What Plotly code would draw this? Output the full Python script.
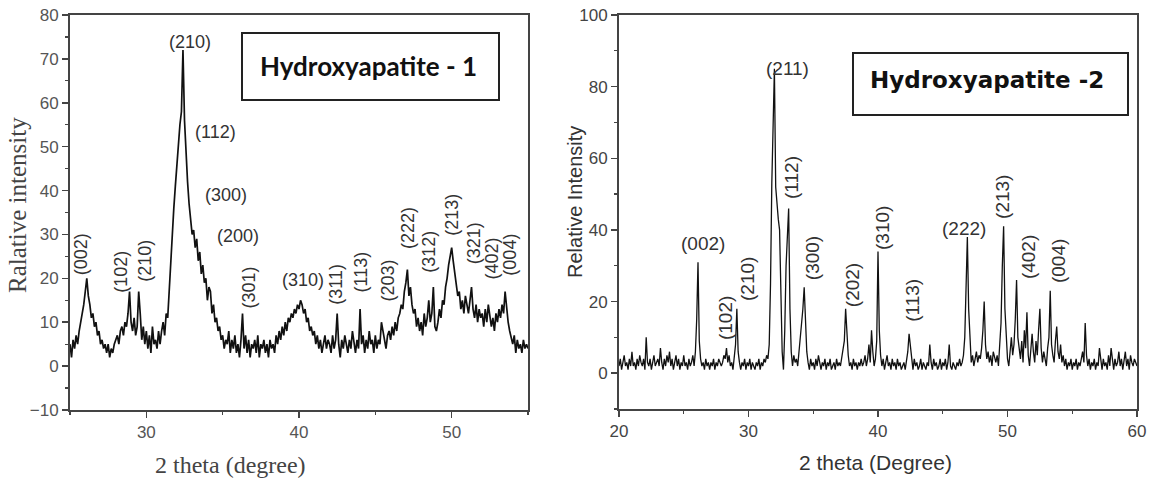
import numpy as np
import plotly.graph_objects as go

# ---------------- data: Hydroxyapatite - 1 (2theta 25.0 .. 55.0, step 0.1) ----------------
theta1_start, theta1_step = 25.0, 0.1
intensity1 = [
    5, 2, 6, 4, 7, 5, 8, 10, 12, 14,        # 25
    17, 20, 16, 14, 11, 12, 9, 10, 7, 8,    # 26
    5, 6, 4, 5, 3, 5, 2, 4, 3, 5,           # 27
    6, 7, 5, 8, 9, 7, 10, 9, 12, 17,        # 28
    10, 8, 11, 7, 9, 17, 12, 6, 9, 5,       # 29
    8, 4, 7, 3, 9, 5, 6, 4, 8, 5,           # 30
    8, 10, 7, 12, 11, 18, 25, 30, 36, 41,   # 31
    46, 50, 55, 58, 72, 56, 48, 42, 37, 33, # 32
    30, 31, 27, 29, 24, 26, 21, 23, 19, 20, # 33
    15, 18, 17, 12, 14, 10, 11, 8, 9, 6,    # 34
    7, 4, 6, 5, 8, 3, 6, 4, 7, 3,           # 35
    5, 2, 6, 12, 4, 7, 3, 6, 2, 5,          # 36
    4, 6, 3, 7, 2, 5, 4, 6, 3, 5,           # 37
    2, 6, 4, 5, 3, 7, 5, 8, 6, 9,           # 38
    7, 10, 8, 11, 10, 12, 11, 13, 12, 14,   # 39
    13, 15, 14, 12, 13, 10, 11, 8, 9, 7,    # 40
    8, 5, 7, 4, 6, 3, 5, 7, 4, 6,           # 41
    5, 3, 7, 4, 6, 12, 5, 2, 6, 4,          # 42
    7, 5, 3, 6, 4, 8, 5, 3, 6, 4,           # 43
    13, 5, 7, 3, 6, 4, 8, 5, 6, 3,          # 44
    7, 4, 6, 5, 10, 8, 6, 4, 7, 8,          # 45
    6, 9, 7, 10, 8, 11, 12, 14, 13, 17,     # 46
    19, 22, 16, 18, 14, 12, 13, 9, 11, 8,   # 47
    10, 7, 12, 9, 11, 15, 10, 12, 18, 9,    # 48
    8, 10, 13, 11, 15, 14, 18, 20, 23, 25,  # 49
    27, 24, 21, 18, 16, 17, 13, 15, 12, 16, # 50
    14, 12, 15, 18, 13, 11, 14, 10, 13, 11, # 51
    12, 9, 13, 10, 14, 12, 9, 11, 8, 12,    # 52
    10, 13, 11, 14, 12, 17, 13, 10, 8, 6,   # 53
    5, 7, 3, 6, 4, 5, 3, 6, 4, 5,           # 54
    4,
]

# ---------------- data: Hydroxyapatite - 2 (2theta 20.0 .. 60.0, step 0.1) ----------------
theta2_start, theta2_step = 20.0, 0.1
intensity2 = [
    2, 4, 1, 3, 5, 2, 3, 1, 4, 2,           # 20
    6, 2, 3, 1, 4, 2, 5, 3, 2, 4,           # 21
    1, 10, 3, 2, 4, 1, 3, 5, 2, 3,          # 22
    4, 2, 7, 3, 1, 4, 2, 5, 3, 6,           # 23
    2, 4, 1, 3, 5, 2, 4, 1, 3, 2,           # 24
    5, 2, 3, 1, 4, 2, 3, 5, 2, 6,           # 25
    15, 31, 9, 4, 2, 3, 1, 4, 2, 3,         # 26
    1, 3, 2, 4, 1, 3, 2, 4, 3, 2,           # 27
    3, 5, 4, 7, 3, 5, 2, 3, 1, 4,           # 28
    8, 18, 6, 3, 1, 3, 2, 4, 1, 3,          # 29
    2, 4, 1, 3, 2, 1, 3, 2, 4, 1,           # 30
    3, 2, 4, 3, 5, 4, 8, 25, 53, 75,        # 31
    85, 52, 46, 43, 40, 18, 6, 1, 12, 30,   # 32
    40, 46, 18, 6, 2, 5, 3, 4, 2, 6,        # 33
    9, 15, 18, 24, 12, 6, 3, 1, 4, 2,       # 34
    3, 1, 4, 2, 5, 3, 1, 3, 2, 4,           # 35
    1, 3, 2, 4, 1, 2, 3, 1, 4, 2,           # 36
    3, 2, 4, 6, 9, 18, 10, 5, 2, 3,         # 37
    1, 4, 2, 3, 1, 3, 2, 4, 2, 3,           # 38
    5, 2, 4, 8, 3, 12, 6, 2, 4, 9,          # 39
    34, 12, 5, 2, 4, 1, 3, 5, 2, 3,         # 40
    1, 4, 2, 3, 1, 4, 2, 3, 1, 2,           # 41
    3, 1, 4, 6, 11, 7, 3, 1, 4, 2,          # 42
    3, 1, 2, 4, 1, 3, 2, 1, 3, 2,           # 43
    8, 3, 1, 4, 2, 3, 1, 2, 4, 1,           # 44
    3, 2, 4, 1, 3, 8, 2, 1, 3, 2,           # 45
    1, 3, 2, 4, 2, 3, 5, 10, 22, 38,        # 46
    18, 8, 3, 5, 2, 4, 6, 3, 5, 4,          # 47
    7, 12, 20, 8, 4, 6, 3, 5, 2, 6,         # 48
    4, 3, 5, 2, 8, 14, 30, 41, 18, 9,       # 49
    4, 2, 6, 10, 5, 8, 15, 26, 10, 6,       # 50
    4, 9, 3, 12, 7, 17, 5, 2, 8, 11,        # 51
    6, 3, 9, 5, 12, 18, 7, 3, 6, 4,         # 52
    2, 7, 10, 23, 8, 5, 3, 9, 13, 6,        # 53
    4, 8, 3, 5, 2, 4, 1, 3, 2, 4,           # 54
    1, 3, 2, 4, 1, 3, 2, 4, 6, 3,           # 55
    14, 5, 2, 4, 1, 3, 2, 4, 1, 3,          # 56
    2, 7, 3, 1, 4, 2, 3, 1, 5, 2,           # 57
    7, 3, 1, 4, 2, 3, 6, 2, 4, 1,           # 58
    3, 6, 2, 4, 1, 5, 3, 2, 4, 3,           # 59
    2,
]

# ---------------- peak (hkl) labels ----------------
labels1_text = ["(210)", "(112)", "(300)", "(200)", "(002)", "(102)", "(210)", "(301)",
                "(310)", "(311)", "(113)", "(203)", "(222)", "(312)", "(213)", "(321)",
                "(402)", "(004)"]
labels1_theta = [32.85, 34.5, 35.2, 36.0, 25.73, 28.37, 29.95, 36.7,
                 40.25, 42.4, 44.08, 45.86, 47.18, 48.5, 50.0, 51.47, 52.66, 53.85]
labels1_int = [73.8, 53.3, 39.0, 29.6, 25.5, 21.6, 23.9, 17.8,
               19.6, 18.7, 21.4, 19.6, 31.4, 26.0, 34.4, 28.0, 24.6, 25.5]
labels1_vertical = [False, False, False, False, True, True, True, True,
                    False, True, True, True, True, True, True, True, True, True]

labels2_text = ["(211)", "(002)", "(102)", "(210)", "(112)", "(300)", "(202)", "(310)",
                "(113)", "(222)", "(213)", "(402)", "(004)"]
labels2_theta = [33.05, 26.49, 28.19, 29.96, 33.36, 34.9, 38.0, 40.3,
                 42.6, 46.64, 49.65, 51.58, 53.9]
labels2_int = [85.2, 36.3, 15.4, 26.3, 54.5, 32.1, 24.6, 40.5,
               20.4, 40.5, 49.2, 32.4, 31.3]
labels2_vertical = [False, False, True, True, True, True, True, True,
                    True, False, True, True, True]

theta1 = np.round(theta1_start + theta1_step * np.arange(len(intensity1)), 2)
theta2 = np.round(theta2_start + theta2_step * np.arange(len(intensity2)), 2)

W, H = 1151, 482


def px(xp):
    return xp / W


def py(yp):
    return 1 - yp / H


fig = go.Figure()
fig.add_trace(go.Scatter(x=theta1, y=intensity1, mode="lines",
                         line=dict(color="#111", width=1.7), xaxis="x", yaxis="y",
                         showlegend=False, hoverinfo="skip"))
fig.add_trace(go.Scatter(x=theta2, y=intensity2, mode="lines",
                         line=dict(color="#111", width=1.3), xaxis="x2", yaxis="y2",
                         showlegend=False, hoverinfo="skip"))

AX = "#444"
tick_font1 = dict(family="Liberation Sans, Arial", size=17, color="#555")
tick_font2 = dict(family="Liberation Sans, Arial", size=17, color="#444")


def main_axis(rng, dtick, minor_dtick, domain, anchor, font, **kw):
    d = dict(range=rng, domain=domain, anchor=anchor, showline=True, linecolor=AX,
             linewidth=2, mirror=True, ticks="outside", ticklen=6, tickwidth=1.5,
             tickcolor=AX, dtick=dtick, showgrid=False, zeroline=False, tickfont=font,
             automargin=False, ticklabeloverflow="allow",
             minor=dict(ticks="outside", ticklen=3, tickwidth=1.2, tickcolor=AX,
                        dtick=minor_dtick, showgrid=False))
    d.update(kw)
    return d


def mirror_axis(rng, dtick, minor_dtick, overlay, anchor, side):
    return dict(range=rng, overlaying=overlay, anchor=anchor, side=side,
                showline=False, ticks="inside", ticklen=5, tickwidth=1.5, tickcolor=AX,
                dtick=dtick, tick0=0, showticklabels=False, showgrid=False, zeroline=False,
                automargin=False,
                minor=dict(ticks="inside", ticklen=3, tickwidth=1.2, tickcolor=AX,
                           dtick=minor_dtick, showgrid=False))


xd1 = [px(70), px(528)]
yd1 = [py(410), py(15)]
xd2 = [px(619), px(1137)]
yd2 = [py(409), py(15)]

fig.update_layout(
    template="none",
    width=W, height=H, paper_bgcolor="white", plot_bgcolor="white",
    margin=dict(l=0, r=0, t=0, b=0, pad=0, autoexpand=False),
    xaxis=main_axis([25, 55], 10, 5, xd1, "y", tick_font1, tick0=0),
    yaxis=main_axis([-10, 80], 10, 5, yd1, "x", tick_font1, tick0=0),
    xaxis2=main_axis([20, 60], 10, 5, xd2, "y2", tick_font2, tick0=0),
    yaxis2=main_axis([-10, 100], 20, 10, yd2, "x2", tick_font2, tick0=0),
    xaxis3=mirror_axis([25, 55], 10, 5, "x", "y", "top"),
    yaxis3=mirror_axis([-10, 80], 10, 5, "y", "x", "right"),
    xaxis4=mirror_axis([20, 60], 10, 5, "x2", "y2", "top"),
    yaxis4=mirror_axis([-10, 100], 20, 10, "y2", "x2", "right"),
)

annotations = []
for t, xv, yv, vert in zip(labels1_text, labels1_theta, labels1_int, labels1_vertical):
    annotations.append(dict(x=xv, y=yv, xref="x", yref="y", text=t, showarrow=False,
                            xanchor="center", yanchor="middle",
                            textangle=-90 if vert else 0,
                            font=dict(family="Liberation Sans, Arial", size=18, color="#333")))
for t, xv, yv, vert in zip(labels2_text, labels2_theta, labels2_int, labels2_vertical):
    annotations.append(dict(x=xv, y=yv, xref="x2", yref="y2", text=t, showarrow=False,
                            xanchor="center", yanchor="middle",
                            textangle=-90 if vert else 0,
                            font=dict(family="Liberation Sans, Arial", size=19, color="#333")))


def paper_text(xp, yp, text, font, angle=0):
    return dict(x=px(xp), y=py(yp), xref="paper", yref="paper", text=text,
                textangle=angle, showarrow=False, xanchor="center", yanchor="middle",
                font=font)


annotations += [
    paper_text(17, 205, "Ralative intensity",
               dict(family="Liberation Serif, Times New Roman", size=25, color="#444"), -90),
    paper_text(231, 465, "2 theta (degree)",
               dict(family="Liberation Serif, Times New Roman", size=24, color="#444")),
    paper_text(575, 202, "Relative Intensity",
               dict(family="Liberation Sans, Arial", size=20, color="#333"), -90),
    paper_text(875, 462, "2 theta (Degree)",
               dict(family="Liberation Sans, Arial", size=21, color="#333")),
    paper_text(368, 66, "<b>Hydroxyapatite - 1</b>",
               dict(family="Lato, Open Sans", size=26, color="#111")),
    paper_text(987, 80, "<b>Hydroxyapatite -2</b>",
               dict(family="DejaVu Sans", size=23, color="#111")),
]
fig.update_layout(annotations=annotations)

fig.update_layout(shapes=[
    dict(type="rect", xref="paper", yref="paper", x0=px(242), x1=px(499), y0=py(100), y1=py(33),
         line=dict(color="#222", width=2), fillcolor="rgba(0,0,0,0)", layer="above"),
    dict(type="rect", xref="paper", yref="paper", x0=px(853), x1=px(1128), y0=py(115), y1=py(53),
         line=dict(color="#222", width=2), fillcolor="rgba(0,0,0,0)", layer="above"),
])

# remove the browser's default 8px page margin so the figure fills the window exactly
fig.write_html("out.html",
               config={"displayModeBar": False, "staticPlot": True},
               post_script="document.body.style.margin='0';document.body.style.overflow='hidden';")
